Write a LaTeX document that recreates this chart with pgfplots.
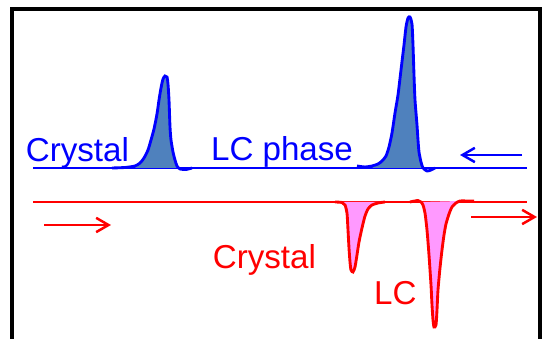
\documentclass[border=0pt]{standalone}
\usepackage{pgfplots}
\pgfplotsset{compat=1.18}
\usepackage{fontspec}
\setmainfont{Liberation Sans}
\usetikzlibrary{arrows.meta}
\definecolor{fillblue}{RGB}{79,129,189}
\definecolor{fillpink}{RGB}{255,153,255}
\begin{document}
\begin{tikzpicture}
\begin{axis}[
  scale only axis, width=10cm, height=6.2546cm,
  xmin=0, xmax=542, ymin=0, ymax=339, y dir=reverse,
  hide axis, clip=false,
]
\path (axis cs:0,0) rectangle (axis cs:542,339);
% frame
\draw[line width=1.7pt, black] (axis cs:12,339) -- (axis cs:12,9) -- (axis cs:540,9) -- (axis cs:540,339);
% baselines
\addplot[blue, line width=1.1pt] coordinates {(33,168) (527,168)};
\addplot[red, line width=0.9pt] coordinates {(33,202) (527,202)};
% blue peak 1
\addplot[fill=fillblue, draw=none] coordinates {
(135,168) (140,163) (144,158) (148,150) (151,140) (154,129) (157,114) (159,100) (161,88) (163,79) (165,76) (167,77) (168,84) (169,100) (170,127) (171,140) (173,152) (175,160) (177,166) (178,168)};
\addplot[blue, line width=1.5pt, smooth, tension=0.4] coordinates {
(112,168) (125,167.5) (135,166) (140,163) (144,158) (148,150) (151,140) (154,129) (157,114) (159,100) (161,88) (163,79) (165,76) (167,77) (168,84) (169,100) (170,127) (171,140) (173,152) (175,160) (177,166) (180,169) (186,169.5) (192,168)};
% blue peak 2
\addplot[fill=fillblue, draw=none] coordinates {
(372,168) (378,164) (382,161) (386,156) (389,147) (392,133) (395,113) (398,95) (401,70) (404,45) (406,27) (408,18) (410,17) (412,24) (413,45) (414,75) (415,100) (417,125) (418,140) (419,152) (421,162) (423,168)};
\addplot[blue, line width=1.5pt, smooth, tension=0.4] coordinates {
(357,166) (365,167) (372,166) (378,164) (382,161) (386,156) (389,147) (392,133) (395,113) (398,95) (401,70) (404,45) (406,27) (408,18) (410,17) (412,24) (413,45) (414,75) (415,100) (417,125) (418,140) (419,152) (421,162) (423,168) (427,171) (431,170) (435,168)};
% red peak 1
\addplot[fill=fillpink, draw=none] coordinates {
(343,202) (345,205) (347,213) (348,230) (349,248) (350,262) (351,270) (353,272) (355,267) (357,255) (359,242) (362,228) (365,216) (368,209) (372,205) (378,203) (385,202)};
\addplot[red, line width=1.5pt, smooth, tension=0.4] coordinates {
(335,202) (342,202.5) (345,205) (347,213) (348,230) (349,248) (350,262) (351,270) (353,272) (355,267) (357,255) (359,242) (362,228) (365,216) (368,209) (372,205) (378,203) (385,202)};
% red peak 2
\addplot[fill=fillpink, draw=none] coordinates {
(421,202) (423,205) (425,213) (427,230) (429,255) (431,285) (432,305) (433,320) (434,327) (436,325) (437,310) (438,290) (440,268) (442,250) (444,235) (446,224) (449,214) (452,207) (456,203) (460,201)};
\addplot[red, line width=1.5pt, smooth, tension=0.4] coordinates {
(410,202) (418,200.5) (421,202) (423,205) (425,213) (427,230) (429,255) (431,285) (432,305) (433,320) (434,327) (436,325) (437,310) (438,290) (440,268) (442,250) (444,235) (446,224) (449,214) (452,207) (456,203) (460,201) (468,201) (474,201)};
% arrows
\draw[blue, line width=1.3pt, -{Straight Barb[length=6.5pt,width=7.5pt]}] (axis cs:522,155) -- (axis cs:460,155);
\draw[red, line width=1.3pt, -{Straight Barb[length=6.5pt,width=7.5pt]}] (axis cs:44,225) -- (axis cs:111,225);
\draw[red, line width=1.3pt, -{Straight Barb[length=6.5pt,width=7.5pt]}] (axis cs:471,217) -- (axis cs:537,217);
% labels
\node[anchor=base west, inner sep=0pt, text=blue, font=\fontsize{17.4}{21}\selectfont] at (axis cs:25.5,162) {Crystal};
\node[anchor=base west, inner sep=0pt, text=blue, font=\fontsize{17.4}{21}\selectfont] at (axis cs:210.7,161) {LC phase};
\node[anchor=base west, inner sep=0pt, text=red, font=\fontsize{17.4}{21}\selectfont] at (axis cs:212.5,269) {Crystal};
\node[anchor=base west, inner sep=0pt, text=red, font=\fontsize{17.4}{21}\selectfont] at (axis cs:373.7,305) {LC};
\end{axis}
\end{tikzpicture}
\end{document}
